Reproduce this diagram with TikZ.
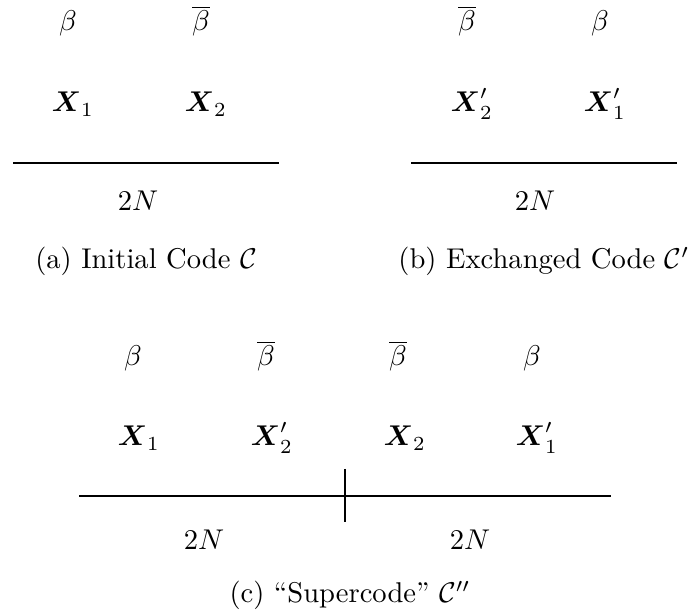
\documentclass[tikz,border=0pt]{standalone}
\usepackage{amsmath}
\usepackage{amssymb}
\usepackage{tikz}
\usetikzlibrary{positioning}
\tikzset{
  lbl/.style={inner sep=0pt,anchor=base},
  sub/.style={inner sep=0pt,anchor=base},
  codeline/.style={line width=0.7pt},
}
\begin{document}
\begin{tikzpicture}[x=0.35pt,y=-0.35pt]
  \useasboundingbox (0,0) rectangle (693,611);
  % (a) initial code
  \node[lbl] (ba1) at (68,31)  {$\beta$};
  \node[lbl] (ba2) at (201,31) {$\overline{\beta}$};
  \node[lbl] (xa1) at (73,112) {$\boldsymbol{X}_1$};
  \node[lbl] (xa2) at (206,112) {$\boldsymbol{X}_2$};
  \coordinate (la0) at (13,163);
  \coordinate (la1) at (279,163);
  \draw[codeline] (la0) -- (la1);
  \node[lbl] (na) at (138,211) {$2N$};
  \node[sub] (capa) at (146,269) {(a) Initial Code $\mathcal{C}$};
  % (b) exchanged code
  \node[lbl] (bb1) at (467,31) {$\overline{\beta}$};
  \node[lbl] (bb2) at (600,31) {$\beta$};
  \node[lbl] (xb1) at (472,112) {$\boldsymbol{X}_2'$};
  \node[lbl] (xb2) at (605,112) {$\boldsymbol{X}_1'$};
  \coordinate (lb0) at (411,163);
  \coordinate (lb1) at (677,163);
  \draw[codeline] (lb0) -- (lb1);
  \node[lbl] (nb) at (535,211) {$2N$};
  \node[sub] (capb) at (544,269) {(b) Exchanged Code $\mathcal{C}'$};
  % (c) supercode
  \node[lbl] (bc1) at (133,366) {$\beta$};
  \node[lbl] (bc2) at (266,366) {$\overline{\beta}$};
  \node[lbl] (bc3) at (398,366) {$\overline{\beta}$};
  \node[lbl] (bc4) at (532,366) {$\beta$};
  \node[lbl] (xc1) at (139,446) {$\boldsymbol{X}_1$};
  \node[lbl] (xc2) at (272,446) {$\boldsymbol{X}_2'$};
  \node[lbl] (xc3) at (405,446) {$\boldsymbol{X}_2$};
  \node[lbl] (xc4) at (537,446) {$\boldsymbol{X}_1'$};
  \coordinate (lc0) at (79,496);
  \coordinate (lc1) at (611,496);
  \coordinate (tc0) at (345,469);
  \coordinate (tc1) at (345,522);
  \draw[codeline] (lc0) -- (lc1);
  \draw[codeline] (tc0) -- (tc1);
  \node[lbl] (nc1) at (204,550) {$2N$};
  \node[lbl] (nc2) at (470,550) {$2N$};
  \node[sub] (capc) at (350,603) {(c) ``Supercode'' $\mathcal{C}''$};
\end{tikzpicture}
\end{document}
